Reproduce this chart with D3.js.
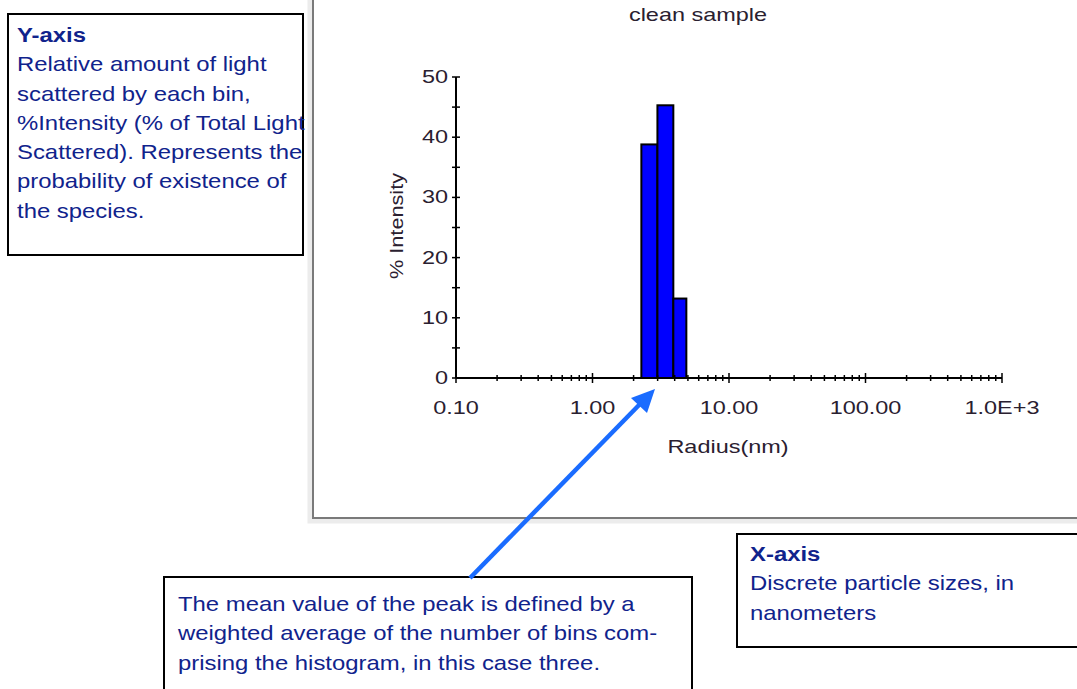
<!DOCTYPE html>
<html><head><meta charset="utf-8">
<script src="https://cdn.jsdelivr.net/npm/d3@7"></script>
<style>body{margin:0;background:#fff}svg{display:block}</style>
</head><body>
<svg id="c" width="1077" height="689"></svg>
<script>
// ---- data ----
const binLow = [2.28, 2.99, 3.91];
const binHigh = [2.99, 3.91, 4.87];
const intensity = [38.8, 45.3, 13.2];
const xTickValues = [0.1, 1, 10, 100, 1000];
const xTickLabels = ["0.10", "1.00", "10.00", "100.00", "1.0E+3"];
const yTickValues = [0, 10, 20, 30, 40, 50];
const title = "clean sample";
const xLabel = "Radius(nm)";
const yLabel = "% Intensity";
const yNoteTitle = "Y-axis";
const yNoteLines = ["Relative amount of light", "scattered by each bin,", "%Intensity (% of Total Light", "Scattered). Represents the", "probability of existence of", "the species."];
const xNoteTitle = "X-axis";
const xNoteLines = ["Discrete particle sizes, in", "nanometers"];
const meanNoteLines = ["The mean value of the peak is defined by a", "weighted average of the number of bins com-", "prising the histogram, in this case three."];

const svg = d3.select("#c");
const font = "'Liberation Sans', Arial, sans-serif";
const navy = "#10238c";
const chartFs = 17.5, chartSx = 1.34;
const labelInk = "#2a2030";

// chart panel frame
svg.append("rect").attr("x", 310).attr("y", -10).attr("width", 800).attr("height", 531)
  .attr("fill", "none").attr("stroke", "#ececec").attr("stroke-width", 5);
svg.append("rect").attr("x", 313).attr("y", -10).attr("width", 800).attr("height", 528)
  .attr("fill", "#fff").attr("stroke", "#7a7a7a").attr("stroke-width", 2);

const x = d3.scaleLog().domain([0.1, 1000]).range([456, 1002]);
const y = d3.scaleLinear().domain([0, 50]).range([378, 77]);

// bars
svg.append("g").selectAll("rect").data(intensity).join("rect")
  .attr("x", (d, i) => x(binLow[i]))
  .attr("width", (d, i) => x(binHigh[i]) - x(binLow[i]))
  .attr("y", d => y(d))
  .attr("height", d => y(0) - y(d))
  .attr("fill", "#0000ff").attr("stroke", "#000").attr("stroke-width", 2);

// x axis
const minorX = [];
for (let e = -1; e < 3; e++) for (let k = 2; k <= 9; k++) minorX.push(k * Math.pow(10, e));
const gx = svg.append("g").attr("transform", "translate(0,378)");
gx.append("line").attr("x1", x(0.1)).attr("x2", x(1000)).attr("stroke", "#000").attr("stroke-width", 2);
gx.selectAll(".mn").data(minorX).join("line").attr("class", "mn")
  .attr("x1", d => x(d)).attr("x2", d => x(d)).attr("y1", -3).attr("y2", 3)
  .attr("stroke", "#000").attr("stroke-width", 1.5);
gx.selectAll(".mj").data(xTickValues).join("line").attr("class", "mj")
  .attr("x1", d => x(d)).attr("x2", d => x(d)).attr("y1", -5).attr("y2", 5)
  .attr("stroke", "#000").attr("stroke-width", 1.5);
gx.selectAll("text").data(xTickValues).join("text")
  .attr("transform", d => `translate(${x(d)},36) scale(${chartSx},1)`).attr("text-anchor", "middle")
  .attr("font-family", font).attr("font-size", chartFs).attr("fill", labelInk)
  .text((d, i) => xTickLabels[i]);

// y axis
const gy = svg.append("g").attr("transform", "translate(456,0)");
gy.append("line").attr("y1", y(0)).attr("y2", y(50)).attr("stroke", "#000").attr("stroke-width", 2);
const minorY = d3.range(5, 50, 10);
gy.selectAll(".mn").data(minorY).join("line").attr("class", "mn")
  .attr("y1", d => y(d)).attr("y2", d => y(d)).attr("x1", -4).attr("x2", 4)
  .attr("stroke", "#000").attr("stroke-width", 1.5);
gy.selectAll(".mj").data(yTickValues).join("line").attr("class", "mj")
  .attr("y1", d => y(d)).attr("y2", d => y(d)).attr("x1", -4).attr("x2", 4)
  .attr("stroke", "#000").attr("stroke-width", 1.5);
gy.selectAll("text").data(yTickValues).join("text")
  .attr("transform", d => `translate(-8,${y(d) + 6}) scale(${chartSx},1)`).attr("text-anchor", "end")
  .attr("font-family", font).attr("font-size", chartFs).attr("fill", labelInk)
  .text(d => d);

// titles
svg.append("text").attr("transform", `translate(698,21) scale(${chartSx},1)`).attr("text-anchor", "middle")
  .attr("font-family", font).attr("font-size", chartFs).attr("fill", labelInk).text(title);
svg.append("text").attr("transform", `translate(728,453) scale(${chartSx},1)`).attr("text-anchor", "middle")
  .attr("font-family", font).attr("font-size", chartFs).attr("fill", labelInk).text(xLabel);
svg.append("text").attr("transform", "translate(403,226) rotate(-90) scale(1.24,1)").attr("text-anchor", "middle")
  .attr("font-family", font).attr("font-size", chartFs).attr("fill", labelInk).text(yLabel);

// annotation boxes
const noteSx = 1.165;
function note(bx, by, bw, bh, tx, ty, head, lines) {
  svg.append("rect").attr("x", bx).attr("y", by).attr("width", bw).attr("height", bh)
    .attr("fill", "#fff").attr("stroke", "#000").attr("stroke-width", 2);
  const t = svg.append("text").attr("transform", `translate(${tx},${ty}) scale(${noteSx},1)`)
    .attr("font-family", font).attr("font-size", 20.5).attr("fill", navy);
  let row = 0;
  if (head) {
    t.append("tspan").attr("x", 0).attr("y", 0).attr("font-weight", "bold").text(head);
    row = 1;
  }
  lines.forEach((l, i) => {
    t.append("tspan").attr("x", 0).attr("y", (i + row) * 29.3).text(l);
  });
}
note(8, 14, 295, 241, 17, 42, yNoteTitle, yNoteLines);
note(737, 534, 350, 113, 750, 561, xNoteTitle, xNoteLines);
note(164, 577, 528, 130, 178, 611, null, meanNoteLines);

// arrow
const blue = "#1a6cff";
svg.append("line").attr("x1", 470).attr("y1", 578).attr("x2", 641).attr("y2", 403)
  .attr("stroke", blue).attr("stroke-width", 4.5);
svg.append("path").attr("d", "M655,389 L631,398 L647,413 Z").attr("fill", blue);
</script>
</body></html>
